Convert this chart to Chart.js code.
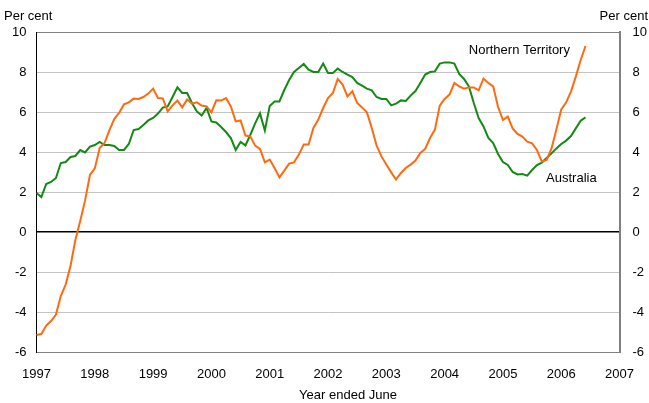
<!DOCTYPE html>
<html>
<head>
<meta charset="utf-8">
<script src="https://cdn.jsdelivr.net/npm/chart.js@4/dist/chart.umd.min.js"></script>
<style>
html,body{margin:0;padding:0;background:#fff;}
#wrap{width:649px;height:403px;position:relative;}
</style>
</head>
<body>
<div id="wrap"><canvas id="c" width="649" height="403"></canvas></div>
<script>
// Tick labels for the x axis (year ended June)
const years = [1997, 1998, 1999, 2000, 2001, 2002, 2003, 2004, 2005, 2006, 2007];
const monthNames = ['Jan','Feb','Mar','Apr','May','Jun','Jul','Aug','Sep','Oct','Nov','Dec'];
// Y-axis ticks (per cent)
const yTicks = [-6, -4, -2, 0, 2, 4, 6, 8, 10];

// Series: monthly, from the start of 1997
const northernTerritory = [
  -5.15, -5.1, -4.68, -4.45, -4.13, -3.2, -2.63, -1.7, -0.4, 0.55,
  1.58, 2.85, 3.18, 4.2, 4.45, 5.08, 5.65, 5.95, 6.38, 6.48,
  6.67, 6.65, 6.75, 6.92, 7.17, 6.7, 6.68, 6.03, 6.33, 6.57,
  6.23, 6.62, 6.42, 6.48, 6.32, 6.28, 5.98, 6.58, 6.57, 6.7,
  6.28, 5.53, 5.58, 4.82, 4.78, 4.32, 4.15, 3.48, 3.62, 3.2,
  2.73, 3.07, 3.42, 3.48, 3.87, 4.37, 4.37, 5.2, 5.62, 6.2,
  6.7, 6.95, 7.65, 7.37, 6.78, 7.03, 6.45, 6.23, 5.98, 5.2,
  4.32, 3.78, 3.37, 2.98, 2.62, 2.95, 3.2, 3.37, 3.57, 3.95,
  4.15, 4.7, 5.12, 6.32, 6.65, 6.87, 7.45, 7.28, 7.17, 7.23,
  7.23, 7.08, 7.67, 7.45, 7.28, 6.25, 5.6, 5.77, 5.18, 4.9,
  4.77, 4.52, 4.43, 4.1, 3.52, 3.6, 4.18, 5.13, 6.13, 6.47,
  7.02, 7.77, 8.6, 9.3
];
const australia = [
  1.95, 1.75, 2.4, 2.5, 2.7, 3.45, 3.5, 3.75, 3.8, 4.1,
  3.98, 4.27, 4.35, 4.5, 4.35, 4.35, 4.3, 4.1, 4.1, 4.4,
  5.1, 5.15, 5.35, 5.58, 5.7, 5.92, 6.22, 6.28, 6.75, 7.23,
  6.95, 6.95, 6.45, 6.03, 5.82, 6.2, 5.53, 5.48, 5.25, 5.0,
  4.7, 4.1, 4.5, 4.33, 4.85, 5.43, 5.93, 5.08, 6.3, 6.53,
  6.53, 7.1, 7.6, 8.0, 8.2, 8.4, 8.12, 8.0, 8.0, 8.42,
  7.95, 7.95, 8.17, 8.0, 7.87, 7.75, 7.45, 7.32, 7.17, 7.08,
  6.75, 6.65, 6.65, 6.33, 6.42, 6.58, 6.55, 6.82, 7.05, 7.45,
  7.87, 8.0, 8.03, 8.42, 8.48, 8.48, 8.42, 7.9, 7.65, 7.28,
  6.45, 5.7, 5.28, 4.7, 4.45, 3.9, 3.5, 3.35, 3.0, 2.88,
  2.9, 2.82, 3.1, 3.35, 3.47, 3.7, 3.93, 4.18, 4.4, 4.57,
  4.8, 5.18, 5.57, 5.73
];

// Category labels: one per month from Jan 1997 to Jan 2007
const labels = [];
years.slice(0, -1).forEach(y => monthNames.forEach(m => labels.push(m + ' ' + y)));
labels.push('Jan ' + years[years.length - 1]);

const FONT = "'Liberation Sans', Arial, Helvetica, sans-serif";
const ORANGE = '#ff6a10';
const GREEN = '#138a13';

const textPlugin = {
  id: 'texts',
  afterDraw(chart) {
    const ctx = chart.ctx;
    const xs = chart.scales.x, ys = chart.scales.y;
    ctx.save();
    ctx.fillStyle = '#000';
    ctx.font = '13px ' + FONT;
    ctx.textBaseline = 'middle';
    ctx.textAlign = 'left';
    ctx.fillText('Per cent', 4, 16);
    ctx.textAlign = 'right';
    ctx.fillText('Per cent', 648, 16);
    ctx.textAlign = 'center';
    // axis title
    ctx.fillText('Year ended June', 348, 395);
    // series labels
    ctx.fillText('Northern Territory', xs.getPixelForValue(100) - 3, ys.getPixelForValue(9.1));
    ctx.fillText('Australia', xs.getPixelForValue(107) + 15, ys.getPixelForValue(2.7));
    ctx.restore();
  }
};

new Chart(document.getElementById('c'), {
  type: 'line',
  data: {
    labels: labels,
    datasets: [
      { label: 'Northern Territory', data: northernTerritory, borderColor: ORANGE, borderWidth: 2, pointRadius: 0, tension: 0, fill: false },
      { label: 'Australia', data: australia, borderColor: GREEN, borderWidth: 2, pointRadius: 0, tension: 0, fill: false }
    ]
  },
  options: {
    responsive: false,
    animation: false,
    devicePixelRatio: 1,
    layout: { padding: { top: 32, left: 0, right: 0, bottom: 0 } },
    plugins: { legend: { display: false }, tooltip: { enabled: false }, title: { display: false } },
    scales: {
      x: {
        type: 'category',
        offset: false,
        grid: { display: false, drawTicks: false },
        border: { display: true, color: '#808080', width: 1 },
        ticks: {
          autoSkip: false, maxRotation: 0, minRotation: 0, padding: 15,
          color: '#000', font: { family: FONT, size: 13 },
          callback: (v, i) => (i % 12 === 0 ? String(years[i / 12]) : '')
        },
        title: { display: false },
        afterFit: s => { s.height = 51; }
      },
      y: {
        position: 'left',
        min: -6, max: 10,
        afterBuildTicks: s => { s.ticks = yTicks.map(v => ({ value: v })); },
        grid: {
          drawTicks: false,
          color: c => (c.tick.value === 0 ? '#000' : (c.tick.value === 10 || c.tick.value === -6) ? '#808080' : '#c4c4c4'),
          lineWidth: c => (c.tick.value === 0 ? 1.5 : 1)
        },
        border: { display: true, color: '#000', width: 1 },
        ticks: { padding: 10, color: '#000', font: { family: FONT, size: 13 } },
        afterFit: s => { s.width = 36.5; }
      },
      y2: {
        position: 'right',
        min: -6, max: 10,
        afterBuildTicks: s => { s.ticks = yTicks.map(v => ({ value: v })); },
        grid: { display: false, drawTicks: false },
        border: { display: true, color: '#808080', width: 2 },
        ticks: { padding: 13, color: '#000', font: { family: FONT, size: 13 } },
        afterFit: s => { s.width = 28.3; }
      }
    }
  },
  plugins: [textPlugin]
});
</script>
</body>
</html>
